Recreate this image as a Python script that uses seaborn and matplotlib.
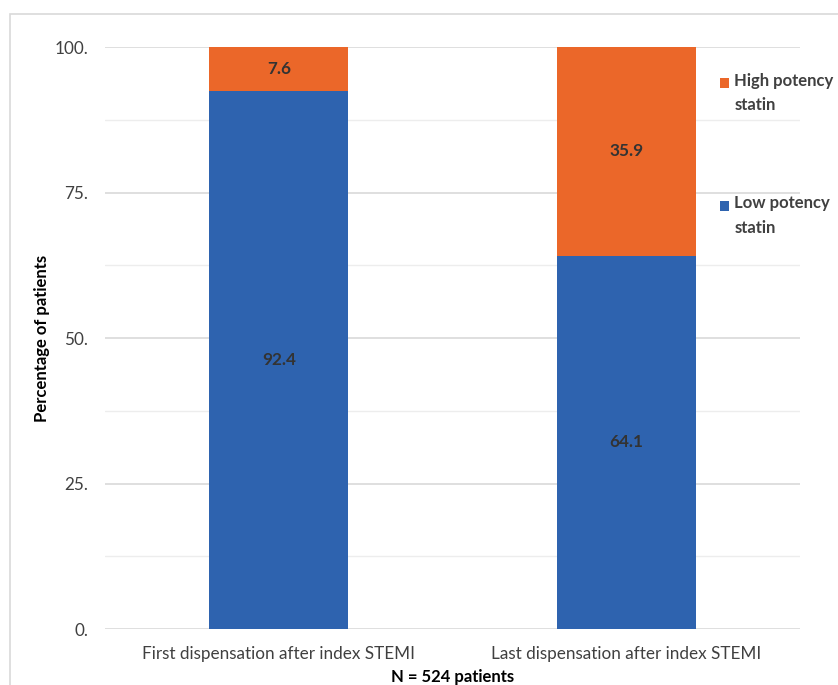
import matplotlib
matplotlib.use("Agg")
import matplotlib.pyplot as plt
from matplotlib.patches import Patch, Rectangle
from matplotlib.legend_handler import HandlerPatch
from matplotlib.ticker import MultipleLocator, FixedLocator
import seaborn as sns
import pandas as pd

categories = ["First dispensation after index STEMI", "Last dispensation after index STEMI"]
low_potency = [92.4, 64.1]
high_potency = [7.6, 35.9]
series_names = ["High potency\nstatin", "Low potency\nstatin"]
y_ticks = [0, 25, 50, 75, 100]
y_tick_labels = ["0.", "25.", "50.", "75.", "100."]

BLUE = "#2E63AF"
ORANGE = "#EB6729"
TEXT = "#404040"
FS = 12.3
LEG_FS = 12.0

sns.set_theme(style="white")
plt.rcParams["font.family"] = ["Lato", "DejaVu Sans"]

df = pd.DataFrame({
    "category": categories,
    "low": low_potency,
    "high": high_potency,
})
df["total"] = df["low"] + df["high"]

fig = plt.figure(figsize=(8.38, 6.85), dpi=100)
ax = fig.add_axes([105 / 838, 1 - 629 / 685, 695 / 838, 582 / 685])

# stacked bars: total (orange) underneath, low potency (blue) on top
sns.barplot(data=df, x="category", y="total", color=ORANGE, width=0.4,
            saturation=1, linewidth=0, ax=ax, zorder=2)
sns.barplot(data=df, x="category", y="low", color=BLUE, width=0.4,
            saturation=1, linewidth=0, ax=ax, zorder=3)

ax.set_xlim(-0.5, 1.5)
ax.set_ylim(0, 100)

# segment values
for i, (lo, hi) in enumerate(zip(df["low"], df["high"])):
    ax.text(i, lo / 2, f"{lo:.1f}", ha="center", va="center",
            fontsize=FS, fontweight="bold", color="#333333", zorder=5)
    ax.text(i, lo + hi / 2, f"{hi:.1f}", ha="center", va="center",
            fontsize=FS, fontweight="bold", color="#333333", zorder=5)

ax.yaxis.set_major_locator(FixedLocator(y_ticks))
ax.set_yticklabels(y_tick_labels)
ax.yaxis.set_minor_locator(MultipleLocator(12.5))
ax.grid(axis="y", which="major", color="#D9D9D9", linewidth=1.2, zorder=0)
ax.grid(axis="y", which="minor", color="#EDEDED", linewidth=1.0, zorder=0)
ax.set_axisbelow(True)
for s in ax.spines.values():
    s.set_visible(False)

ax.tick_params(axis="y", which="both", length=0, pad=12, labelsize=FS,
               labelcolor=TEXT)
ax.tick_params(axis="x", length=0, pad=12, labelsize=FS, labelcolor=TEXT)

ax.set_ylabel("Percentage of patients", fontsize=12, fontweight="bold",
              color="black", labelpad=3)
ax.set_xlabel("N = 524 patients", fontsize=12, fontweight="bold",
              color="black", labelpad=5)


def top_square(legend, orig_handle, xdescent, ydescent, width, height, fontsize):
    # square aligned with the first line of a two-line label
    return Rectangle((-xdescent, -ydescent + 7.5), width, height)


handles = [Patch(facecolor=ORANGE, edgecolor="none"),
           Patch(facecolor=BLUE, edgecolor="none")]
leg = fig.legend(handles, series_names, loc="upper left",
                 bbox_to_anchor=(705 / 838, 1 - 58 / 685), frameon=False,
                 labelspacing=4.9, handlelength=0.55, handleheight=0.55,
                 handletextpad=0.3, labelcolor=TEXT,
                 prop={"weight": "bold", "size": LEG_FS},
                 handler_map={Patch: HandlerPatch(patch_func=top_square)})
for t in leg.get_texts():
    t.set_linespacing(1.65)

# outer chart frame
fig.add_artist(Rectangle((10 / 838, -0.1), 1.0, 1.1 - 14 / 685,
                         transform=fig.transFigure, fill=False,
                         edgecolor="#D9D9D9", linewidth=1.2))

fig.savefig("out.png", dpi=100)
